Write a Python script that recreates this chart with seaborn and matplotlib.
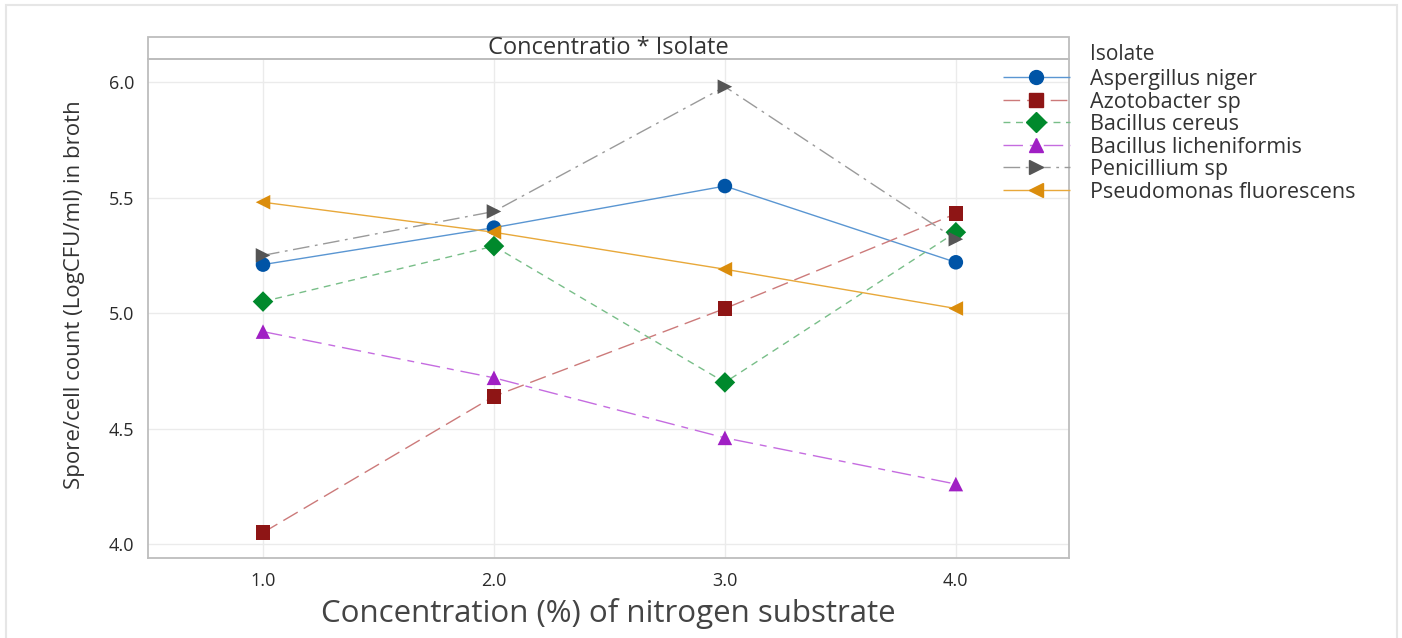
import matplotlib
matplotlib.use('Agg')
import matplotlib.pyplot as plt
from matplotlib.lines import Line2D
from matplotlib.patches import Rectangle
import seaborn as sns
import pandas as pd

# Dados
concentracoes = [1.0, 2.0, 3.0, 4.0]
isolados = ['Aspergillus niger', 'Azotobacter sp', 'Bacillus cereus',
            'Bacillus licheniformis', 'Penicillium sp', 'Pseudomonas fluorescens']
aspergillus = [5.21, 5.37, 5.55, 5.22]
azotobacter = [4.05, 4.64, 5.02, 5.43]
cereus = [5.05, 5.29, 4.70, 5.35]
licheniformis = [4.92, 4.72, 4.46, 4.26]
penicillium = [5.25, 5.44, 5.98, 5.32]
pseudomonas = [5.48, 5.35, 5.19, 5.02]
yticks = [4.0, 4.5, 5.0, 5.5, 6.0]

series = [aspergillus, azotobacter, cereus, licheniformis, penicillium, pseudomonas]
df = pd.DataFrame({
    'Concentracao': concentracoes * len(isolados),
    'Contagem': [v for s in series for v in s],
    'Isolate': [nome for nome in isolados for _ in concentracoes],
})

# Estilos (cores do marcador e da linha separadas, como no Minitab)
cor_marcador = ['#0054A6', '#8E1515', '#00892C', '#A01FC4', '#555555', '#DB8D0C']
cor_linha = ['#5A96D2', '#CC7A7A', '#78BE88', '#C56CE0', '#9A9A9A', '#E8A83A']
marcadores = ['o', 's', 'D', '^', '>', '<']
tracos = [(1, 0), (12, 5), (5, 4), (14, 5, 5, 5), (12, 4, 2, 4), (1, 0)]

sns.set_style('white')
plt.rcParams['font.family'] = ['Open Sans', 'DejaVu Sans']

fig = plt.figure(figsize=(14.02, 6.38), dpi=100)
ax = fig.add_axes([148 / 1402, 1 - 558 / 638, (1069 - 148) / 1402, (558 - 59) / 638])

sns.lineplot(data=df, x='Concentracao', y='Contagem', hue='Isolate', style='Isolate',
             palette=dict(zip(isolados, cor_linha)),
             dashes=dict(zip(isolados, tracos)),
             markers=False, linewidth=1.0, legend=False, ax=ax)
sns.scatterplot(data=df, x='Concentracao', y='Contagem', hue='Isolate', style='Isolate',
                palette=dict(zip(isolados, cor_marcador)),
                markers=dict(zip(isolados, marcadores)),
                s=110, linewidth=0, legend=False, zorder=5, ax=ax)

ax.set_xlim(0.502, 4.49)
ax.set_ylim(3.94, 6.10)
ax.set_xticks(concentracoes)
ax.set_xticklabels([f'{c:.1f}' for c in concentracoes])
ax.set_yticks(yticks)
ax.set_yticklabels([f'{t:.1f}' for t in yticks])
ax.grid(True, color='#EBEBEB', linewidth=1.0)
ax.set_axisbelow(True)
for sp in ax.spines.values():
    sp.set_color('#BDBDBD')
    sp.set_linewidth(1.3)
ax.tick_params(axis='both', direction='out', length=4, width=0.8, color='#BDBDBD',
               labelsize=13, labelcolor='#2A2A2A', pad=6)
ax.set_xlabel('Concentration (%) of nitrogen substrate', fontsize=22.5, color='#444444', labelpad=6)
ax.set_ylabel('Spore/cell count (LogCFU/ml) in broth', fontsize=16, color='#333333')
ax.yaxis.set_label_coords(-0.068, 0.527)

# Faixa do título
ax.add_patch(Rectangle((0, 1), 1, 22 / 499, transform=ax.transAxes, clip_on=False,
                       facecolor='white', edgecolor='#BDBDBD', linewidth=1.3))
ax.text(0.5, 1 + 11 / 499, 'Concentratio * Isolate', transform=ax.transAxes,
        ha='center', va='center', fontsize=17, color='#333333')

# Legenda
handles = [Line2D([], [], color=cl, dashes=d, linewidth=1.0, marker=m, markersize=10,
                  markerfacecolor=cm, markeredgecolor=cm)
           for cl, d, m, cm in zip(cor_linha, tracos, marcadores, cor_marcador)]
fig.legend(handles, isolados, loc='upper left', bbox_to_anchor=(1003 / 1402, 1 - 69 / 638),
           frameon=False, fontsize=15.5, handlelength=3.1, handletextpad=0.95,
           labelspacing=0.07, borderpad=0, borderaxespad=0, labelcolor='#333333')
fig.text(1090 / 1402, 1 - 55 / 638, 'Isolate', ha='left', va='center', fontsize=15, color='#333333')

# Moldura externa
fig.patches.append(Rectangle((6 / 1402, -0.05), (1397 - 6) / 1402, 1 - 5 / 638 + 0.05,
                             transform=fig.transFigure, fill=False, edgecolor='#E6E6E6',
                             linewidth=1.5))

fig.savefig('out.png', dpi=100)
